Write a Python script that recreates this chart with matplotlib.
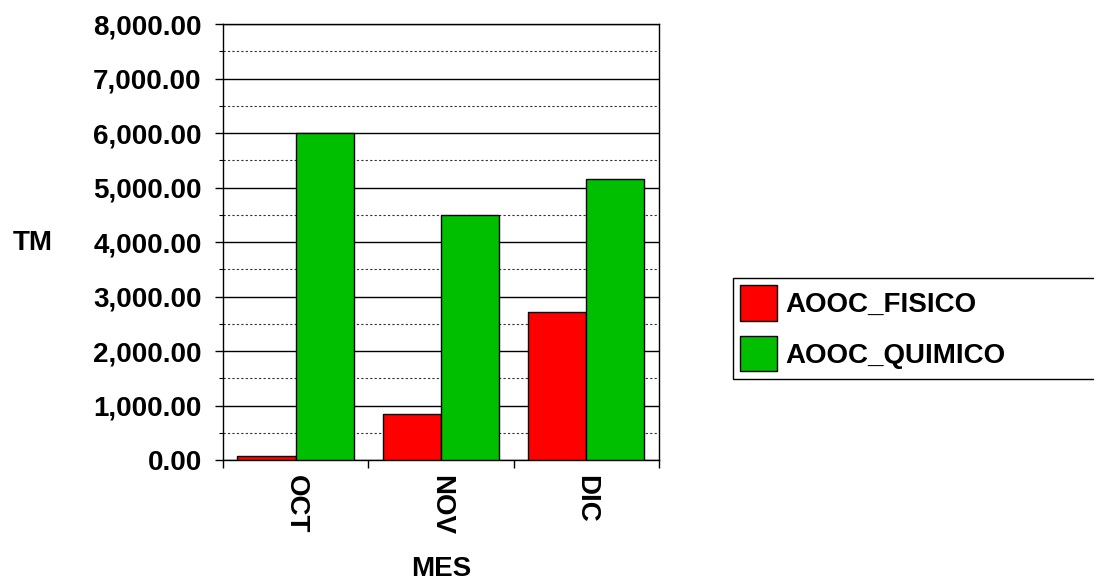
import numpy as np
import matplotlib
matplotlib.use("Agg")
import matplotlib.pyplot as plt
from matplotlib.ticker import FuncFormatter, MultipleLocator

plt.rcParams['font.family'] = ['Liberation Sans', 'DejaVu Sans']
plt.rcParams['font.weight'] = 'bold'

meses = ['OCT', 'NOV', 'DIC']
fisico = [80, 845, 2715]
quimico = [6000, 4500, 5160]
series = ['AOOC_FISICO', 'AOOC_QUIMICO']
colores = ['#ff0000', '#00bf00']

fig = plt.figure(figsize=(10.94, 5.82), dpi=100)
ax = fig.add_axes([0.2038, 0.2096, 0.3985, 0.7491])

x = np.arange(len(meses))
w = 0.4
ax.bar(x - w / 2, fisico, w, color=colores[0], edgecolor='black', linewidth=1, label=series[0], zorder=3)
ax.bar(x + w / 2, quimico, w, color=colores[1], edgecolor='black', linewidth=1, label=series[1], zorder=3)

ax.set_xlim(-0.5, len(meses) - 0.5)
ax.set_ylim(0, 8000)

# y axis: solid major grid, dotted minor grid
ax.yaxis.set_major_locator(MultipleLocator(1000))
ax.yaxis.set_minor_locator(MultipleLocator(500))
ax.yaxis.set_major_formatter(FuncFormatter(lambda v, p: f'{v:,.2f}'))
ax.grid(axis='y', which='major', color='black', linewidth=1, linestyle='-', zorder=0)
ax.grid(axis='y', which='minor', color='#333333', linewidth=0.8, linestyle=(0, (2, 2)), zorder=0)
ax.tick_params(axis='y', which='major', length=5.8, width=1, labelsize=20, pad=9.5)
ax.tick_params(axis='y', which='minor', length=2.9, width=0.8)

# x axis: ticks between categories, labels at centers
ax.set_xticks(np.arange(-0.5, len(meses), 1.0))
ax.set_xticklabels([])
ax.set_xticks(x, minor=True)
ax.set_xticklabels(meses, minor=True, rotation=-90, fontsize=20, fontweight='bold')
ax.tick_params(axis='x', which='major', length=5.8, width=1)
ax.tick_params(axis='x', which='minor', length=0, pad=10.8)

for s in ax.spines.values():
    s.set_linewidth(1)
    s.set_color('black')

for lab in ax.get_yticklabels():
    lab.set_fontweight('bold')

fig.text(33 / 1094, 1 - 243 / 582, 'TM', fontsize=20, fontweight='bold', ha='center', va='center')
fig.text(441 / 1094, 1 - 569 / 582, 'MES', fontsize=20, fontweight='bold', ha='center', va='center')

leg = fig.legend(loc='upper left', bbox_to_anchor=(0.670, 0.30, 0.4, 1 - 278 / 582 - 0.30), mode='expand',
                 frameon=True, fancybox=False, edgecolor='black', framealpha=1,
                 prop={'size': 20, 'weight': 'bold'}, handlelength=1.33, handleheight=1.6,
                 handletextpad=0.3, borderpad=0.26, labelspacing=0.53, borderaxespad=0)
leg.get_frame().set_linewidth(1)

fig.savefig('out.png', dpi=100)
